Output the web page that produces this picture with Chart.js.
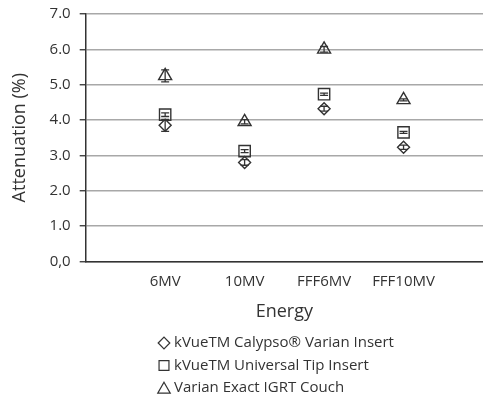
<!DOCTYPE html>
<html>
<head>
<meta charset="utf-8">
<script src="https://cdn.jsdelivr.net/npm/chart.js@4/dist/chart.umd.min.js"></script>
<style>
  html, body { margin: 0; padding: 0; background: #fff; }
  #wrap { width: 483px; height: 400px; position: relative; }
</style>
</head>
<body>
<div id="wrap"><canvas id="c"></canvas></div>
<script>
// Beam energies along the x axis (placed at x = 1..4)
const energies = ['6MV', '10MV', 'FFF6MV', 'FFF10MV'];

// Attenuation (%) per insert / couch, with +/- error
const calypsoInsert = [3.85, 2.80, 4.32, 3.23];
const calypsoErr    = [0.17, 0.08, 0.07, 0.06];
const universalTip  = [4.15, 3.12, 4.73, 3.65];
const universalErr  = [0.05, 0.04, 0.03, 0.03];
const exactCouch    = [5.25, 3.95, 6.00, 4.57];
const exactErr      = [0.17, 0.06, 0.08, 0.03];

// Y tick labels for 0..7
const yTickLabels = ['0,0', '1.0', '2.0', '3.0', '4.0', '5.0', '6.0', '7.0'];

const seriesNames = [
  'kVueTM Calypso\u00AE Varian Insert',
  'kVueTM Universal Tip Insert',
  'Varian Exact IGRT Couch'
];

const INK = '#333333';
const FONT = "'Open Sans', sans-serif";

function points(values) {
  return values.map((v, i) => ({ x: i + 1, y: v }));
}

// Vertical error bars with short caps, drawn over the hollow markers
const errorBars = {
  id: 'errorBars',
  afterDatasetsDraw(chart) {
    const { ctx, scales: { x, y } } = chart;
    ctx.save();
    ctx.strokeStyle = INK;
    ctx.lineWidth = 1.3;
    chart.data.datasets.forEach(ds => {
      ds.data.forEach((p, i) => {
        const e = ds.errors[i];
        const px = x.getPixelForValue(p.x);
        const top = y.getPixelForValue(p.y + e);
        const bot = y.getPixelForValue(p.y - e);
        ctx.beginPath();
        ctx.moveTo(px, top); ctx.lineTo(px, bot);
        ctx.moveTo(px - 4, top); ctx.lineTo(px + 4, top);
        ctx.moveTo(px - 4, bot); ctx.lineTo(px + 4, bot);
        ctx.stroke();
      });
    });
    ctx.restore();
  }
};

// Stacked legend below the axis title
const stackedLegend = {
  id: 'stackedLegend',
  afterDraw(chart) {
    const { ctx } = chart;
    const x0 = 164, y0 = 343, rowGap = 22.5;
    ctx.save();
    chart.data.datasets.forEach((ds, i) => {
      const cy = y0 + i * rowGap;
      ctx.fillStyle = '#fff';
      ctx.strokeStyle = INK;
      ctx.lineWidth = 1.2;
      Chart.helpers.drawPoint(ctx, {
        pointStyle: ds.pointStyle,
        radius: ds.legendRadius,
        borderWidth: 1.2,
        rotation: 0
      }, x0, cy + (ds.pointStyle === 'triangle' ? 1.5 : 0));
      ctx.fillStyle = INK;
      ctx.font = "15px " + FONT;
      ctx.textBaseline = 'middle';
      ctx.textAlign = 'left';
      ctx.fillText(ds.label, x0 + 10, cy);
    });
    ctx.restore();
  }
};

const marker = {
  showLine: false,
  borderColor: INK,
  backgroundColor: 'rgba(255,255,255,0)',
  pointBorderWidth: 1.4,
  pointHoverRadius: 7
};

new Chart(document.getElementById('c'), {
  type: 'scatter',
  data: {
    datasets: [
      Object.assign({}, marker, {
        label: seriesNames[0], data: points(calypsoInsert), errors: calypsoErr,
        pointStyle: 'rectRot', pointRadius: 6, legendRadius: 5.8
      }),
      Object.assign({}, marker, {
        label: seriesNames[1], data: points(universalTip), errors: universalErr,
        pointStyle: 'rect', pointRadius: 8, legendRadius: 7
      }),
      Object.assign({}, marker, {
        label: seriesNames[2], data: points(exactCouch), errors: exactErr,
        pointStyle: 'triangle', pointRadius: 7.5, legendRadius: 7.2
      })
    ]
  },
  options: {
    responsive: true,
    maintainAspectRatio: false,
    animation: false,
    layout: { autoPadding: false, padding: { top: 14, right: 0, bottom: 77, left: 9 } },
    plugins: {
      legend: { display: false },
      tooltip: { enabled: false }
    },
    scales: {
      x: {
        type: 'linear',
        min: 0, max: 5,
        grid: { display: false, drawTicks: true, tickLength: 11 },
        border: { color: INK, width: 1.5 },
        ticks: {
          stepSize: 1,
          padding: 0,
          color: INK,
          font: { family: FONT, size: 15 },
          callback: v => energies[v - 1] || ''
        },
        title: {
          display: true, text: 'Energy', color: INK,
          font: { family: FONT, size: 18 },
          padding: { top: 11, bottom: 0 }
        }
      },
      y: {
        min: 0, max: 7,
        grid: { color: '#a8a8a8', lineWidth: 1.5, tickLength: 6, tickColor: INK, tickWidth: 1.3 },
        border: { color: INK, width: 1.5 },
        ticks: {
          stepSize: 1,
          padding: 9,
          color: INK,
          font: { family: FONT, size: 15, lineHeight: 0.6 },
          callback: v => yTickLabels[v]
        },
        title: {
          display: true, text: 'Attenuation (%)', color: INK,
          font: { family: FONT, size: 18 },
          padding: { top: 0, bottom: 10 }
        }
      }
    }
  },
  plugins: [errorBars, stackedLegend]
});
</script>
</body>
</html>
